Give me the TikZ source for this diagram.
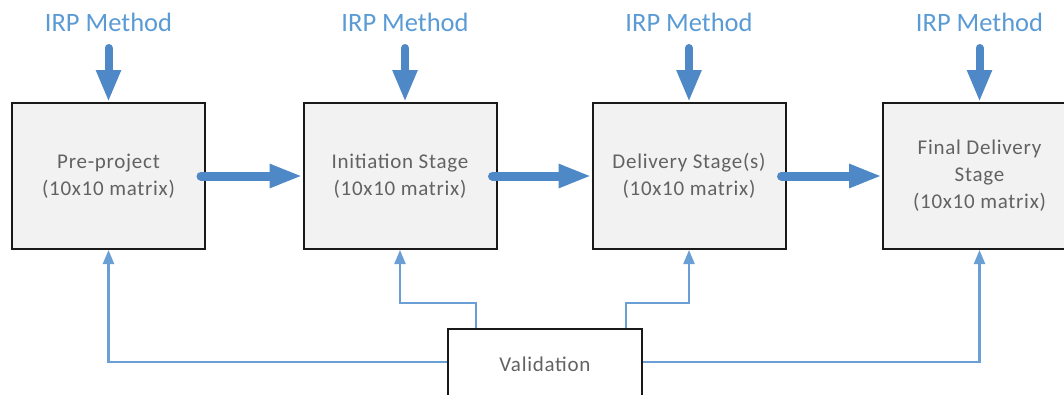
\documentclass[tikz,border=0pt]{standalone}
\usepackage{fontspec}
\setmainfont{Carlito}
\newfontfamily\boxfont[LetterSpace=3.5]{Carlito}
\usetikzlibrary{arrows.meta,calc}

\definecolor{irpblue}{HTML}{5B9BD5}
\definecolor{flowblue}{HTML}{4F88C6}
\definecolor{linkblue}{HTML}{6A9FD6}
\definecolor{boxfill}{HTML}{F2F2F2}
\definecolor{boxtext}{HTML}{626262}

\tikzset{
  stagebox/.style={draw=black!90, line width=2pt, fill=boxfill,
    minimum width=193pt, minimum height=146pt, inner sep=0pt,
    align=center, text=boxtext, font=\boxfont\fontsize{21}{27}\selectfont},
  checkbox/.style={draw=black!90, line width=2pt, fill=white,
    minimum width=194pt, minimum height=70pt, inner sep=0pt,
    text=boxtext, font=\boxfont\fontsize{21}{27}\selectfont},
  methodlabel/.style={text=irpblue, inner sep=0pt,
    font=\fontsize{26.5}{30}\selectfont},
  downflow/.style={draw=flowblue, line width=8pt, line cap=round,
    -{Triangle[width=23pt,length=32pt]}},
  stageflow/.style={draw=flowblue, line width=9pt, line cap=round,
    -{Triangle[width=22pt,length=33pt]}},
  feedback/.style={draw=linkblue, line width=2.2pt,
    -{Triangle[width=11pt,length=14pt]}}
}

\begin{document}
\begin{tikzpicture}[x=1pt,y=-1pt]
  \clip (0,0) rectangle (1064,394);
  \fill[white] (0,0) rectangle (1064,394);

  % stages
  \node[stagebox] (b1) at (108.5,176) {Pre-project\\(10x10 matrix)};
  \node[stagebox] (b2) at (400,176)   {Initiation Stage\\(10x10 matrix)};
  \node[stagebox] (b3) at (689,176)   {Delivery Stage(s)\\(10x10 matrix)};
  \node[stagebox] (b4) at (979.5,176) {Final Delivery\\Stage\\(10x10 matrix)};

  % method inputs
  \node[methodlabel] (m1) at (108.5,22) {IRP Method};
  \node[methodlabel] (m2) at (405,22)   {IRP Method};
  \node[methodlabel] (m3) at (689,22)   {IRP Method};
  \node[methodlabel] (m4) at (979.5,22) {IRP Method};

  \foreach \i in {1,...,4}{
    \draw[downflow] ($(m\i)+(0,26)$) -- (b\i.north -| m\i);
  }

  % flow between stages
  \draw[stageflow] ([xshift=-5pt]b1.east) -- (b2.west);
  \draw[stageflow] ([xshift=-5pt]b2.east) -- (b3.west);
  \draw[stageflow] ([xshift=-5pt]b3.east) -- (b4.west);

  % validation feedback
  \node[checkbox] (val) at (545,364) {Validation};
  \coordinate (vl) at ($(val.north west)+(29,0)$);
  \coordinate (vr) at ($(val.north east)+(-17,0)$);
  \coordinate (vw) at (val.west |- 0,362);
  \coordinate (ve) at (val.east |- 0,362);

  \draw[feedback] (vw) -| (b1.south);
  \draw[feedback] (ve) -| (b4.south);
  \draw[feedback] (vl) -- ++(0,-25) -| (b2.south);
  \draw[feedback] (vr) -- ++(0,-25) -| (b3.south);
\end{tikzpicture}
\end{document}
